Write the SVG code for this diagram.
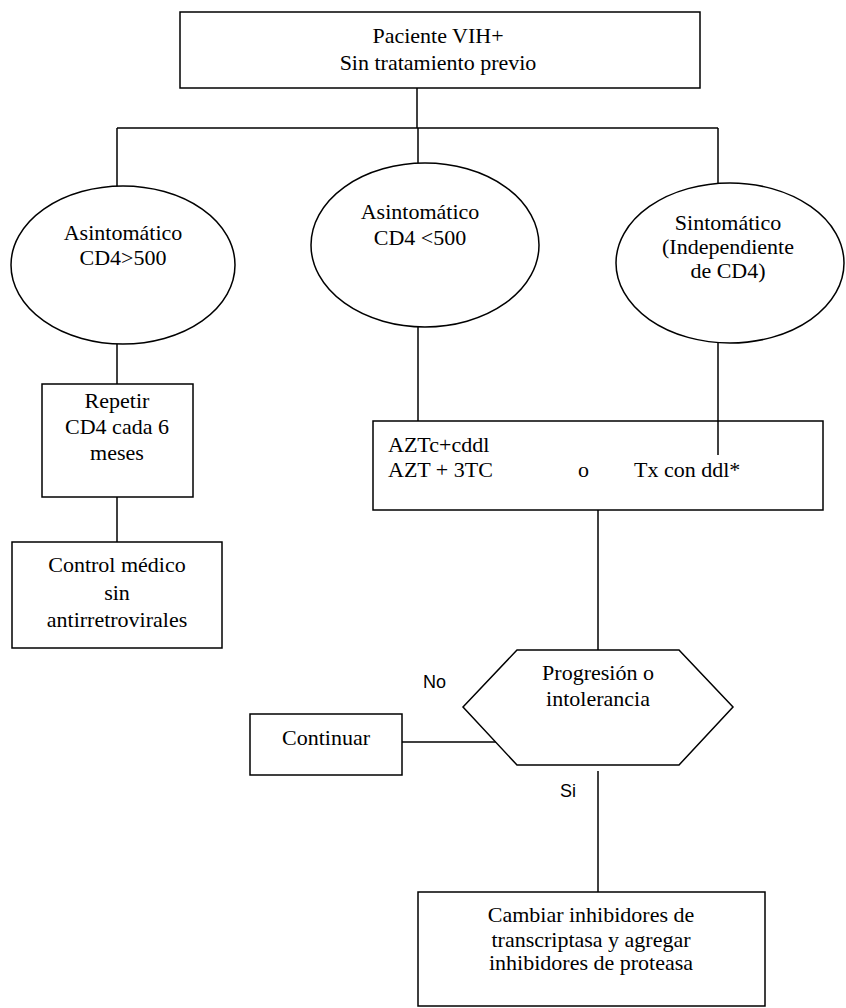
<svg xmlns="http://www.w3.org/2000/svg" width="846" height="1008" viewBox="0 0 846 1008">
<style>
.s{fill:#fff;stroke:#000;stroke-width:1.5}
.c{fill:none;stroke:#000;stroke-width:1.5}
.t{font-family:"Liberation Serif","Times New Roman",serif;font-size:22px;fill:#000}
.m{text-anchor:middle}
.l{font-family:"Liberation Sans",Arial,sans-serif;font-size:18px;fill:#000}
</style>
<rect width="846" height="1008" fill="#fff"/>
<g id="connectors">
<line class="c" x1="417" y1="88" x2="417" y2="128"/>
<line class="c" x1="117" y1="128" x2="718" y2="128"/>
<line class="c" x1="117" y1="128" x2="117" y2="187"/>
<line class="c" x1="418" y1="128" x2="418" y2="163"/>
<line class="c" x1="718" y1="128" x2="718" y2="183"/>
<line class="c" x1="117" y1="344" x2="117" y2="384"/>
<line class="c" x1="418" y1="327" x2="418" y2="421"/>
<line class="c" x1="718" y1="342" x2="718" y2="455"/>
<line class="c" x1="117" y1="497" x2="117" y2="542"/>
<line class="c" x1="598" y1="510" x2="598" y2="650"/>
<line class="c" x1="402" y1="742" x2="496" y2="742"/>
<line class="c" x1="598" y1="771" x2="598" y2="892"/>
<text class="l" x="423" y="688">No</text>
<text class="l" x="560" y="797">Si</text>
</g>
<g id="start">
<rect class="s" x="180" y="12" width="520" height="76"/>
<text class="t m" x="438" y="43">Paciente VIH+</text>
<text class="t m" x="438" y="70">Sin tratamiento previo</text>
</g>
<g id="asint-mayor">
<ellipse class="s" cx="123" cy="265" rx="112" ry="79"/>
<text class="t m" x="123" y="240">Asintomático</text>
<text class="t m" x="123" y="265">CD4&gt;500</text>
</g>
<g id="asint-menor">
<ellipse class="s" cx="425" cy="245" rx="114" ry="82"/>
<text class="t m" x="420" y="219">Asintomático</text>
<text class="t m" x="420" y="245">CD4 &lt;500</text>
</g>
<g id="sintomatico">
<ellipse class="s" cx="730" cy="263" rx="114" ry="80"/>
<text class="t m" x="728" y="230">Sintomático</text>
<text class="t m" x="728" y="254">(Independiente</text>
<text class="t m" x="728" y="278">de CD4)</text>
</g>
<g id="repetir">
<rect class="s" x="42" y="384" width="151" height="113"/>
<text class="t m" x="117" y="408">Repetir</text>
<text class="t m" x="117" y="434">CD4 cada 6</text>
<text class="t m" x="117" y="460">meses</text>
</g>
<g id="control">
<rect class="s" x="12" y="542" width="210" height="106"/>
<text class="t m" x="117" y="572">Control médico</text>
<text class="t m" x="117" y="600">sin</text>
<text class="t m" x="117" y="627">antirretrovirales</text>
</g>
<g id="tratamiento">
<rect class="s" x="373" y="421" width="450" height="89"/>
<line class="c" x1="718" y1="421" x2="718" y2="455"/>
<text class="t" x="388" y="452">AZTc+cddl</text>
<text class="t" x="388" y="477">AZT + 3TC</text>
<text class="t" x="578" y="477">o</text>
<text class="t" x="634" y="477">Tx con ddl*</text>
</g>
<g id="progresion">
<polygon class="s" points="517,650 679,650 733,707 679,765 517,765 463,707"/>
<text class="t m" x="598" y="680">Progresión  o</text>
<text class="t m" x="598" y="706">intolerancia</text>
</g>
<g id="continuar">
<rect class="s" x="250" y="714" width="152" height="61"/>
<text class="t m" x="326" y="745">Continuar</text>
</g>
<g id="cambiar">
<rect class="s" x="418" y="892" width="347" height="114"/>
<text class="t m" x="591" y="922">Cambiar inhibidores de</text>
<text class="t m" x="591" y="947">transcriptasa y agregar</text>
<text class="t m" x="591" y="970">inhibidores de proteasa</text>
</g>
</svg>
